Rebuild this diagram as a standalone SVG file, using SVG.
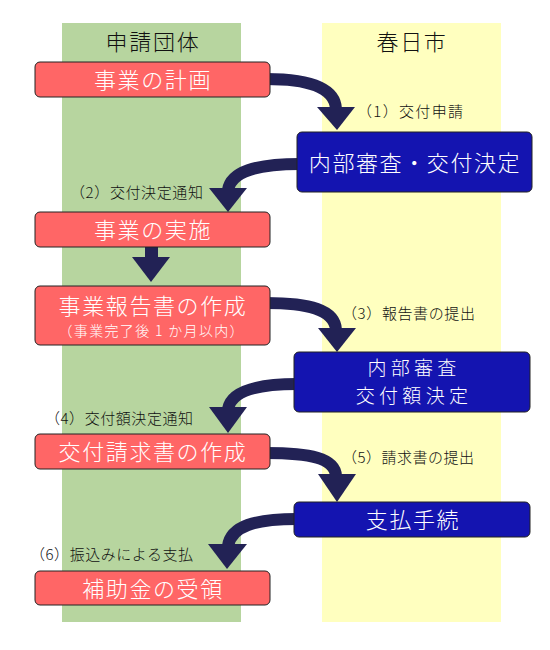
<svg xmlns="http://www.w3.org/2000/svg" width="550" height="650" viewBox="0 0 550 650">
<defs>
<style>
.lane-g{fill:#B7D59F}
.lane-y{fill:#FFFFBF}
.hdr{font-family:"Noto Sans CJK JP","Noto Sans",sans-serif;font-size:22px;letter-spacing:1.7px;fill:#111;text-anchor:middle;font-weight:300}
.rbox{fill:#FF6666;stroke:#222;stroke-width:1}
.bbox{fill:#1414B0;stroke:#222;stroke-width:1}
.t{font-family:"Noto Sans CJK JP","Noto Sans",sans-serif;font-size:22px;letter-spacing:1.6px;fill:#fff;text-anchor:middle;font-weight:300}
.t2{font-family:"Noto Sans CJK JP","Noto Sans",sans-serif;font-size:19px;letter-spacing:4.3px;fill:#fff;text-anchor:middle;font-weight:300}
.ts{font-family:"Noto Sans CJK JP","Noto Sans",sans-serif;font-size:14px;fill:#fff;text-anchor:middle;font-weight:300}
.lbl{font-family:"Noto Sans CJK JP","Noto Sans",sans-serif;font-size:15px;fill:#111;font-weight:300}
.shaft{fill:none;stroke:#222255;stroke-width:12}
.head{fill:#222255}
</style>
</defs>
<rect width="550" height="650" fill="#fff"/>
<g id="lanes">
<rect class="lane-g" x="62" y="23" width="179" height="599"/>
<rect class="lane-y" x="322" y="23" width="179" height="599"/>
<text class="hdr" x="153" y="50">申請団体</text>
<text class="hdr" x="412" y="50">春日市</text>
</g>
<g id="connectors">
<path class="shaft" d="M266,79 C310,79 335,88 336,109"/>
<polygon class="head" points="317,107 355,107 337,130"/>
<path class="shaft" d="M300,164 C255,164 231,172 228,190"/>
<polygon class="head" points="209,188 247,188 228,212"/>
<rect class="head" x="145" y="246" width="13" height="13"/>
<polygon class="head" points="132,257 170,257 151,282"/>
<path class="shaft" d="M266,303 C310,303 335,310 336,330"/>
<polygon class="head" points="318,328 356,328 337,352"/>
<path class="shaft" d="M297,384 C255,384 231,392 228,409"/>
<polygon class="head" points="209,407 247,407 228,433"/>
<path class="shaft" d="M266,453 C310,453 335,458 336,476"/>
<polygon class="head" points="318,474 356,474 337,502"/>
<path class="shaft" d="M297,519 C255,519 231,526 228,546"/>
<polygon class="head" points="208,544 247,544 227,569"/>
<text class="lbl" x="357" y="117" textLength="106">（1）交付申請</text>
<text class="lbl" x="70" y="198" textLength="133">（2）交付決定通知</text>
<text class="lbl" x="342" y="319" textLength="133">（3）報告書の提出</text>
<text class="lbl" x="45" y="424" textLength="148">（4）交付額決定通知</text>
<text class="lbl" x="342" y="463" textLength="132">（5）請求書の提出</text>
<text class="lbl" x="30" y="560" textLength="163">（6）振込みによる支払</text>
</g>
<g id="n1">
<rect class="rbox" x="35" y="62" width="235" height="35" rx="5"/>
<text class="t" x="153" y="88">事業の計画</text>
</g>
<g id="n2">
<rect class="bbox" x="297" y="132" width="235" height="60" rx="5"/>
<text class="t" x="415" y="171">内部審査・交付決定</text>
</g>
<g id="n3">
<rect class="rbox" x="35" y="212" width="235" height="35" rx="5"/>
<text class="t" x="153" y="238">事業の実施</text>
</g>
<g id="n4">
<rect class="rbox" x="35" y="286" width="235" height="59" rx="5"/>
<text class="t" x="153" y="314">事業報告書の作成</text>
<text class="ts" x="151" y="336" textLength="185">（事業完了後 1 か月以内）</text>
</g>
<g id="n5">
<rect class="bbox" x="294" y="352" width="236" height="60" rx="5"/>
<text class="t2"><tspan x="414" y="375">内部審査</tspan><tspan x="414" y="403">交付額決定</tspan></text>
</g>
<g id="n6">
<rect class="rbox" x="35" y="434" width="235" height="35" rx="5"/>
<text class="t" x="153" y="460">交付請求書の作成</text>
</g>
<g id="n7">
<rect class="bbox" x="294" y="502" width="236" height="35" rx="5"/>
<text class="t" x="413" y="528">支払手続</text>
</g>
<g id="n8">
<rect class="rbox" x="35" y="571" width="235" height="34" rx="5"/>
<text class="t" x="153" y="597">補助金の受領</text>
</g>
</svg>
